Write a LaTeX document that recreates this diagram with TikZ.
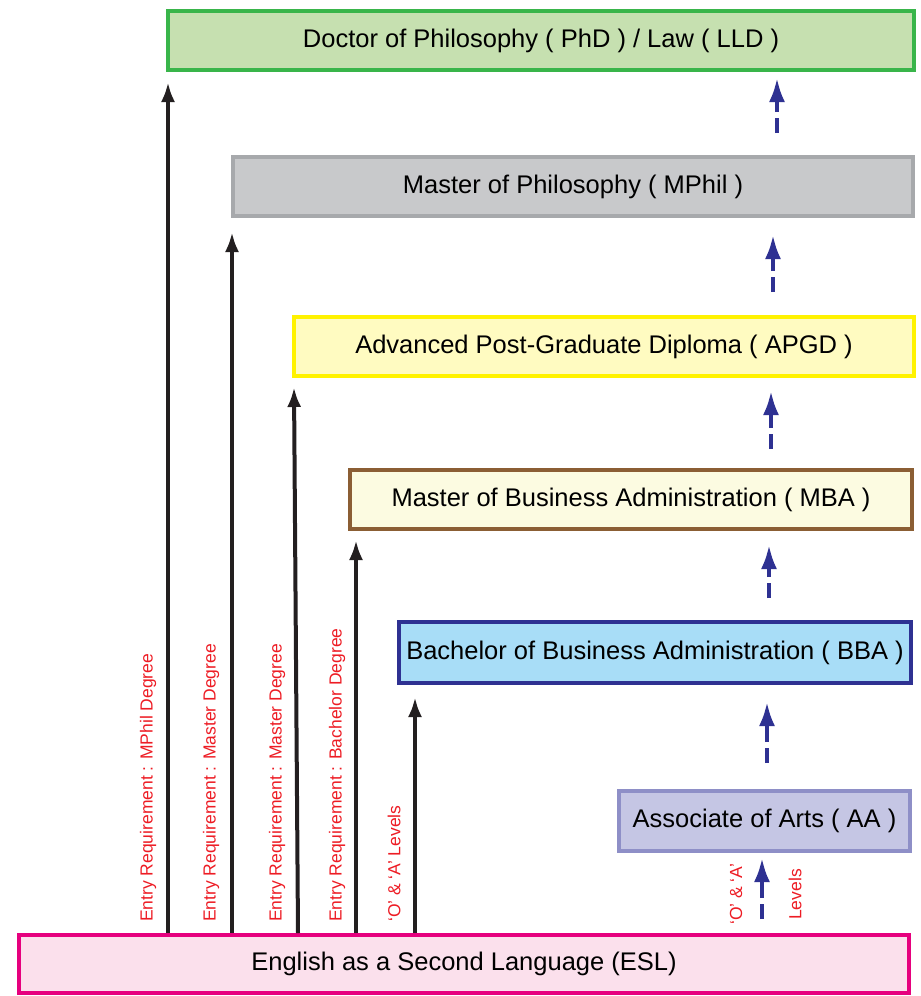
\documentclass[tikz,border=0pt]{standalone}
\usepackage{fontspec}
\setmainfont{Liberation Sans}
\usetikzlibrary{arrows.meta}
\definecolor{phdfill}{RGB}{198,224,176}
\definecolor{phdline}{RGB}{57,181,74}
\definecolor{mphfill}{RGB}{200,201,203}
\definecolor{mphline}{RGB}{167,169,172}
\definecolor{apgfill}{RGB}{255,251,193}
\definecolor{apgline}{RGB}{255,242,0}
\definecolor{mbafill}{RGB}{252,251,225}
\definecolor{mbaline}{RGB}{139,94,52}
\definecolor{bbafill}{RGB}{168,221,247}
\definecolor{bbaline}{RGB}{46,49,146}
\definecolor{aafill}{RGB}{197,198,228}
\definecolor{aaline}{RGB}{142,143,199}
\definecolor{eslfill}{RGB}{251,224,236}
\definecolor{eslline}{RGB}{230,0,126}
\definecolor{bluearr}{RGB}{46,49,146}
\definecolor{redtxt}{RGB}{237,28,36}
\definecolor{blk}{RGB}{35,31,32}
\tikzset{
  box/.style={draw, line width=4pt, inner sep=0pt, text=black,
    font=\fontsize{25.5}{30}\selectfont},
  blkarrow/.style={draw=blk, line width=4pt, -{Latex[length=20pt,width=14pt]}},
  bluearrow/.style={draw=bluearr, line width=4pt, dash pattern=on 15pt off 6pt on 60pt off 0pt,
    -{Latex[length=24pt,width=16pt]}},
  lbl/.style={text=redtxt, rotate=90, anchor=west, inner sep=0pt,
    font=\fontsize{17.5}{20}\selectfont}
}
\begin{document}
\begin{tikzpicture}[x=1pt,y=-1pt]
\useasboundingbox (0,0) rectangle (921,996);
\node[box, fill=phdfill, draw=phdline, minimum width=746pt, minimum height=59pt] (phd) at (541,40.5) {Doctor of Philosophy ( PhD ) / Law ( LLD )};
\node[box, fill=mphfill, draw=mphline, minimum width=680pt, minimum height=59pt] (mphil) at (573,186.5) {Master of Philosophy ( MPhil )};
\node[box, fill=apgfill, draw=apgline, minimum width=620pt, minimum height=59pt] (apgd) at (604,346.5) {Advanced Post-Graduate Diploma ( APGD )};
\node[box, fill=mbafill, draw=mbaline, minimum width=562pt, minimum height=59pt] (mba) at (631,499.5) {Master of Business Administration ( MBA )};
\node[box, fill=bbafill, draw=bbaline, minimum width=512pt, minimum height=61pt] (bba) at (655,652.5) {Bachelor of Business Administration ( BBA )};
\node[box, fill=aafill, draw=aaline, minimum width=291pt, minimum height=60pt] (aa) at (764.5,821) {Associate of Arts ( AA )};
\node[box, fill=eslfill, draw=eslline, minimum width=890pt, minimum height=58pt] (esl) at (464,964) {English as a Second Language (ESL)};

% black arrows from ESL
\coordinate (b1) at (168,933);
\coordinate (b2) at (232,933);
\coordinate (b3) at (298,933);
\coordinate (b4) at (356,933);
\coordinate (b5) at (415,933);
\coordinate (t1) at (168,82);
\coordinate (t2) at (232,232);
\coordinate (t3) at (294,387);
\coordinate (t4) at (356,540);
\coordinate (t5) at (415,697);
\draw[blkarrow] (b1) -- (t1);
\draw[blkarrow] (b2) -- (t2);
\draw[blkarrow] (b3) -- (t3);
\draw[blkarrow] (b4) -- (t4);
\draw[blkarrow] (b5) -- (t5);

% blue dashed arrows
\draw[bluearrow] ([yshift=22pt]mphil.north -| 777,0) -- ([yshift=-6pt]phd.south -| 777,0);
\draw[bluearrow] ([yshift=23pt]apgd.north -| 773,0) -- ([yshift=-17pt]mphil.south -| 773,0);
\draw[bluearrow] ([yshift=19pt]mba.north -| 771,0) -- ([yshift=-13pt]apgd.south -| 771,0);
\draw[bluearrow] ([yshift=22pt]bba.north -| 769,0) -- ([yshift=-14pt]mba.south -| 769,0);
\draw[bluearrow] ([yshift=26pt]aa.north -| 767,0) -- ([yshift=-17pt]bba.south -| 767,0);
\draw[bluearrow] ([yshift=14pt]esl.north -| 762,0) -- ([yshift=-5pt]aa.south -| 762,0);

% labels
\node[lbl] (l1) at (148,922) {Entry Requirement : MPhil Degree};
\node[lbl] (l2) at (211,922) {Entry Requirement : Master Degree};
\node[lbl] (l3) at (277,922) {Entry Requirement : Master Degree};
\node[lbl] (l4) at (337,922) {Entry Requirement : Bachelor Degree};
\node[lbl] (l5) at (394,922) {‘O’ \& ‘A’ Levels};
\node[lbl] (l6) at (736,925) {‘O’ \& ‘A’};
\node[lbl] (l7) at (795,920) {Levels};
\end{tikzpicture}
\end{document}
